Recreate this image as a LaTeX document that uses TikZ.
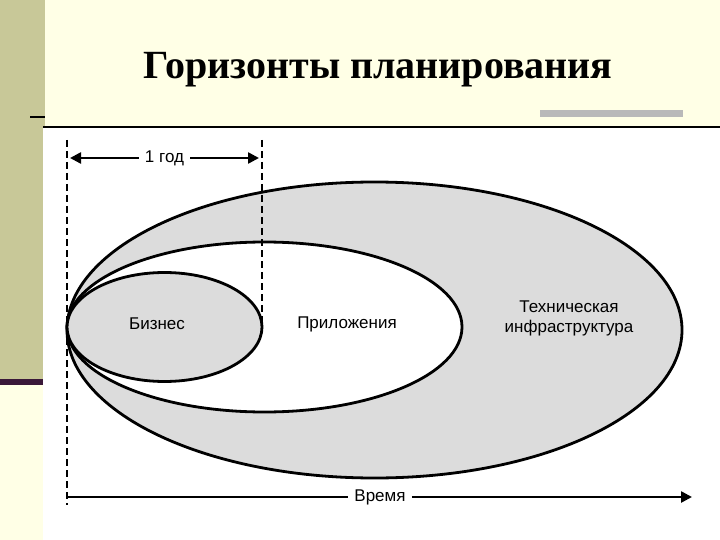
\documentclass[tikz,border=0pt]{standalone}
\usepackage{fontspec}
\setmainfont{Liberation Serif}
\newfontfamily\lab{Liberation Sans}
\usetikzlibrary{arrows.meta}
\definecolor{cream}{HTML}{FFFFE6}
\definecolor{khaki}{HTML}{C8C898}
\definecolor{plum}{HTML}{3A1838}
\definecolor{shade}{HTML}{DCDCDC}
\tikzset{
 ell/.style={draw=black,line width=2.8pt},
 vdash/.style={draw=black,line width=2.5pt,dash pattern=on 7pt off 4pt},
 dim/.style={draw=black,line width=2.5pt,-{Triangle[length=11pt,width=11pt]}},
 lbl/.style={font=\lab\fontsize{17}{20}\selectfont,fill=none,inner sep=6pt}
}
\begin{document}
\begin{tikzpicture}[x=1pt,y=-1pt]
\useasboundingbox (0,0) rectangle (720,540);
\fill[cream] (0,0) rectangle (720,540);
\fill[khaki] (0,0) rectangle (45,383);
\fill[plum] (0,379) rectangle (45,385);
\fill[gray!55] (540,110) rectangle (683,117);
\draw[line width=1.5pt] (30,117) -- (45,117);
\fill[white] (43,127) rectangle (720,540);
\draw[line width=1.2pt] (43,127) -- (720,127);
\node[font=\bfseries\fontsize{40}{44}\selectfont] (title) at (378,70) {Горизонты планирования};
% ellipses
\path[ell,fill=shade] (374.5,330) ellipse [x radius=307.5,y radius=148];
\path[ell,fill=white] (264.5,327) ellipse [x radius=197.5,y radius=85];
\path[ell,fill=shade] (164.5,327) ellipse [x radius=97.5,y radius=54.5];
\node[lbl] (biz) at (157,324) {Бизнес};
\node[lbl] (app) at (347,324) {Приложения};
\node[lbl,align=center] (tech) at (569,318) {Техническая\\инфраструктура};
% dashed
\coordinate (l1) at (67,140); \coordinate (l2) at (67,505);
\coordinate (r1) at (262,140); \coordinate (r2) at (262,325);
\draw[vdash] (l1) -- (l2);
\draw[vdash] (r1) -- (r2);
\node[lbl] (year) at (164.5,158) {1 год};
\coordinate (ya) at (70,158); \coordinate (yb) at (259,158);
\draw[dim] (year.west) -- (ya);
\draw[dim] (year.east) -- (yb);
\node[lbl,fill=white] (time) at (380,497) {Время};
\coordinate (ta) at (67,497); \coordinate (tb) at (692,497);
\draw[line width=2.5pt] (ta) -- (time.west);
\draw[dim] (time.east) -- (tb);
\end{tikzpicture}
\end{document}
